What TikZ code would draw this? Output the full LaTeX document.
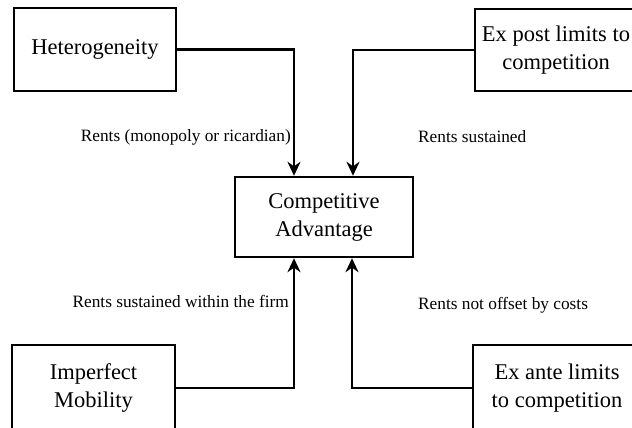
\documentclass[tikz,border=0pt]{standalone}
\usepackage{fontspec}
\setmainfont{Liberation Serif}
\usetikzlibrary{arrows.meta,calc}
\tikzset{
  box/.style={draw, line width=2.4pt, align=center, inner sep=0pt,
    font=\fontsize{22.5}{28}\selectfont},
  conn/.style={line width=2.6pt, -{Stealth[length=14pt,width=13pt]}},
  lbl/.style={inner sep=0pt, font=\fontsize{17.3}{20}\selectfont}
}
\begin{document}
\begin{tikzpicture}[x=1pt,y=-1pt]
  \useasboundingbox (0,0) rectangle (632,428);
  \clip (0,0) rectangle (632,428);
  % boxes
  \node[box, minimum width=162pt, minimum height=83pt] (het) at (95,49.5) {Heterogeneity};
  \node[box, minimum width=162pt, minimum height=82pt] (post) at (556,50) {Ex post limits to\\competition};
  \node[box, minimum width=178pt, minimum height=80pt] (ca) at (324,217) {Competitive\\Advantage};
  \node[box, minimum width=163pt, minimum height=86pt] (mob) at (93.5,388) {Imperfect\\Mobility};
  \node[box, minimum width=168pt, minimum height=86pt] (ante) at (557,388) {Ex ante limits\\to competition};
  % connectors into the central box
  \draw[conn] (het.east) -| ($(ca.north)+(-30,0)$);
  \draw[conn] (post.west) -| ($(ca.north)+(29,0)$);
  \draw[conn] (mob.east) -| ($(ca.south)+(-30,0)$);
  \draw[conn] (ante.west) -| ($(ca.south)+(28,0)$);
  % connector labels
  \node[lbl, anchor=east] (l1) at (291,137) {Rents (monopoly or ricardian)};
  \node[lbl, anchor=west] (l2) at (418,137) {Rents sustained};
  \node[lbl, anchor=east] (l3) at (289,301) {Rents sustained within the firm};
  \node[lbl, anchor=west] (l4) at (418,305) {Rents not offset by costs};
\end{tikzpicture}
\end{document}
